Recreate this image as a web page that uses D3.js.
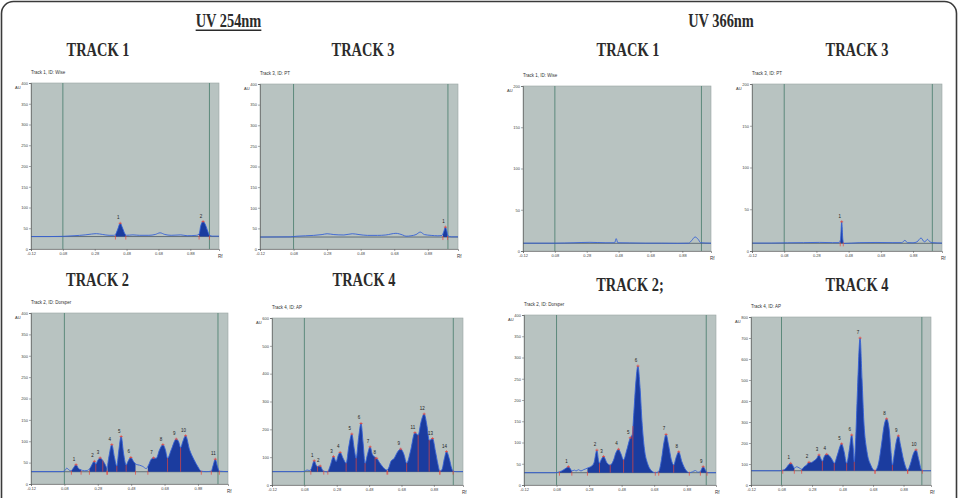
<!DOCTYPE html>
<html><head><meta charset="utf-8">
<script src="https://cdn.jsdelivr.net/npm/d3@7/dist/d3.min.js"></script>
<style>
html,body{margin:0;padding:0;background:#fff;}
svg{display:block;}
.tick text{font-family:"Liberation Sans",Arial,sans-serif;}
</style></head>
<body>
<svg id="chart" width="959" height="498"></svg>
<script>
// ---------- DATA ----------
const rfDomain = [-0.12, 1.06];
const rfTicks = [-0.12, 0.08, 0.28, 0.48, 0.68, 0.88];
const rfTickLabels = ["-0.12", "0.08", "0.28", "0.48", "0.68", "0.88"];
const frontLines = [0.08, 1.0];

const groupTitles = ["UV 254nm", "UV 366nm"];
const trackTitles = ["TRACK 1", "TRACK 3", "TRACK 1", "TRACK 3", "TRACK 2", "TRACK 4", "TRACK 2;", "TRACK 4"];
const panelIds = ["Track 1, ID: Wise", "Track 3, ID: PT", "Track 1, ID: Wise", "Track 3, ID: PT",
                  "Track 2, ID: Dorsper", "Track 4, ID: AP", "Track 2, ID: Dorsper", "Track 4, ID: AP"];

const yTicks400 = [0, 50, 100, 150, 200, 250, 300, 350, 400];
const yTicks200 = [0, 50, 100, 150, 200];
const yTicks600 = [0, 100, 200, 300, 400, 500, 600];
const yTicks800 = [0, 100, 200, 300, 400, 500, 600, 700, 800];

// UV 254 nm, track 1
const s1Signal = [[-0.12,30],[0.0,30],[0.08,30.5],[0.15,32],[0.22,34],[0.26,36],[0.29,37],[0.33,35],[0.37,33],[0.40,33],[0.41,35],[0.425,48],[0.44,62],[0.455,50],[0.47,36],[0.48,33],[0.52,34],[0.56,33],[0.62,33],[0.66,35],[0.69,39],[0.72,35],[0.76,33],[0.82,34],[0.86,32],[0.92,33],[0.935,36],[0.945,55],[0.96,66],[0.975,58],[0.99,42],[1.0,33],[1.02,31],[1.06,31]];
const s1Base = 30;
const s1Fills = [[0.41,0.475],[0.935,1.0]];
const s1Splits = [];
const s1Peaks = [[0.44,62,"1"],[0.96,66,"2"]];

// UV 254 nm, track 3
const s3Signal = [[-0.12,29],[0.06,29.5],[0.1,31],[0.15,32],[0.2,33],[0.25,35],[0.28,37],[0.32,35],[0.38,34],[0.43,37],[0.47,35],[0.52,33],[0.58,33],[0.63,34],[0.69,38],[0.73,34],[0.75,31],[0.78,32],[0.81,35],[0.835,41],[0.86,35],[0.9,33],[0.94,32],[0.965,33],[0.975,42],[0.985,53],[0.993,44],[1.0,32],[1.02,29.5],[1.06,29.5]];
const s3Base = 29;
const s3Fills = [[0.97,0.998]];
const s3Splits = [];
const s3Peaks = [[0.985,53,"1"]];

// UV 366 nm, track 1
const u1Signal = [[-0.12,9.5],[0.08,9.5],[0.2,10],[0.3,10.5],[0.4,10],[0.455,10],[0.465,15],[0.475,10],[0.55,9.8],[0.65,9.5],[0.75,9.5],[0.85,9.3],[0.92,9.5],[0.94,13],[0.96,17],[0.98,14],[0.995,10],[1.06,9.5]];
const u1Base = 9.3;
const u1Fills = [];
const u1Splits = [];
const u1Peaks = [];

// UV 366 nm, track 3
const u3Signal = [[-0.12,9.5],[0.0,9.5],[0.1,9.8],[0.2,10],[0.3,10.3],[0.38,10],[0.42,10],[0.43,14],[0.437,35],[0.444,14],[0.45,9],[0.55,10],[0.65,10.2],[0.75,10],[0.81,10],[0.83,12.8],[0.845,10],[0.88,9.8],[0.905,11],[0.93,15.6],[0.95,11],[0.96,12],[0.969,14],[0.985,11],[1.0,10],[1.06,9.5]];
const u3Base = 9.2;
const u3Fills = [[0.428,0.447]];
const u3Splits = [];
const u3Peaks = [[0.437,35,"1"]];

// UV 254 nm, track 2
const s2Signal = [[-0.12,29],[0.06,29],[0.08,30],[0.094,37],[0.11,32],[0.12,31],[0.135,38],[0.15,45],[0.165,36],[0.18,33],[0.2,31],[0.22,32],[0.235,38],[0.26,53],[0.268,46],[0.28,55],[0.294,61],[0.31,55],[0.325,45],[0.335,38],[0.345,60],[0.364,92],[0.38,62],[0.394,42],[0.405,75],[0.42,111],[0.435,70],[0.45,44],[0.46,52],[0.478,62],[0.495,52],[0.51,46],[0.53,44],[0.55,41],[0.57,36],[0.585,45],[0.6,58],[0.614,61],[0.63,60],[0.65,80],[0.67,92],[0.685,80],[0.698,60],[0.72,80],[0.75,105],[0.765,98],[0.776,85],[0.79,100],[0.806,113],[0.83,80],[0.855,58],[0.88,40],[0.9,30],[0.93,29],[0.96,30],[0.97,42],[0.984,58],[0.996,42],[1.008,30],[1.06,29]];
const s2Base = 28.7;
const s2Fills = [[0.122,0.18],[0.23,0.334],[0.338,0.506],[0.58,0.90],[0.96,1.008]];
const s2Splits = [0.268,0.31,0.394,0.45,0.698,0.776];
const s2Peaks = [[0.15,45,"1"],[0.26,53,"2"],[0.294,61,"3"],[0.364,92,"4"],[0.42,111,"5"],[0.478,62,"6"],[0.614,61,"7"],[0.67,92,"8"],[0.75,105,"9"],[0.806,113,"10"],[0.984,58,"11"]];

// UV 254 nm, track 4
const s4Signal = [[-0.12,48],[0.06,48],[0.081,49],[0.096,54],[0.11,52],[0.12,55],[0.141,87],[0.152,72],[0.161,66],[0.17,68],[0.178,68],[0.19,56],[0.198,50],[0.21,48],[0.223,47],[0.24,70],[0.26,102],[0.276,84],[0.29,108],[0.301,117],[0.32,95],[0.338,78],[0.355,140],[0.373,183],[0.388,130],[0.40,96],[0.415,170],[0.43,221],[0.443,150],[0.455,78],[0.47,110],[0.486,137],[0.5,110],[0.517,100],[0.527,96],[0.545,80],[0.56,68],[0.575,58],[0.588,54],[0.6,60],[0.615,85],[0.634,95],[0.655,118],[0.675,129],[0.695,110],[0.712,78],[0.735,120],[0.763,188],[0.783,179],[0.8,225],[0.82,255],[0.838,210],[0.851,161],[0.862,163],[0.872,167],[0.89,120],[0.905,75],[0.917,50],[0.93,55],[0.945,95],[0.958,120],[0.975,95],[0.99,60],[0.999,50],[1.02,48],[1.06,48]];
const s4Base = 48;
const s4Fills = [[0.12,0.2],[0.225,0.59],[0.595,0.917],[0.917,0.999]];
const s4Splits = [0.161,0.338,0.40,0.455,0.517,0.712,0.783,0.851];
const s4Peaks = [[0.141,87,"1"],[0.178,68,"2"],[0.26,102,"3"],[0.301,117,"4"],[0.373,183,"5"],[0.43,221,"6"],[0.486,137,"7"],[0.527,96,"8"],[0.675,129,"9"],[0.763,188,"11"],[0.82,255,"12"],[0.872,167,"13"],[0.958,120,"14"]];

// UV 366 nm, track 2
const u2Signal = [[-0.12,29],[0.07,29],[0.098,31],[0.12,35],[0.14,40],[0.153,43],[0.165,38],[0.174,33],[0.19,35],[0.2,33],[0.215,36],[0.23,33],[0.246,36],[0.26,38],[0.27,40],[0.297,45],[0.31,52],[0.328,82],[0.338,58],[0.344,51],[0.355,60],[0.369,67],[0.39,52],[0.41,47],[0.43,58],[0.445,76],[0.461,84],[0.475,74],[0.492,59],[0.51,80],[0.533,111],[0.545,118],[0.555,170],[0.567,240],[0.58,280],[0.593,230],[0.605,150],[0.62,85],[0.64,50],[0.66,35],[0.687,29],[0.708,32],[0.725,60],[0.74,100],[0.753,119],[0.768,95],[0.785,60],[0.80,47],[0.815,65],[0.831,78],[0.85,55],[0.875,35],[0.896,29],[0.915,31],[0.933,34],[0.95,30],[0.964,32],[0.981,43],[0.995,35],[1.005,29],[1.06,29]];
const u2Base = 29;
const u2Fills = [[0.098,0.174],[0.27,0.687],[0.708,0.896],[0.964,1.005]];
const u2Splits = [0.344,0.41,0.492,0.549,0.80];
const u2Peaks = [[0.153,43,"1"],[0.328,82,"2"],[0.369,67,"3"],[0.461,84,"4"],[0.533,111,"5"],[0.58,280,"6"],[0.753,119,"7"],[0.831,78,"8"],[0.981,43,"9"]];

// UV 366 nm, track 4
const u4Signal = [[-0.12,68],[0.07,68],[0.088,70],[0.11,80],[0.125,95],[0.14,103],[0.152,95],[0.164,80],[0.179,87],[0.195,82],[0.212,75],[0.23,88],[0.245,95],[0.26,108],[0.275,107],[0.289,113],[0.31,125],[0.326,143],[0.338,125],[0.348,113],[0.36,135],[0.376,146],[0.395,138],[0.413,119],[0.426,103],[0.445,140],[0.474,196],[0.49,160],[0.507,103],[0.525,170],[0.54,238],[0.55,180],[0.557,110],[0.565,200],[0.578,450],[0.595,700],[0.608,500],[0.62,300],[0.64,160],[0.665,95],[0.693,68],[0.715,100],[0.737,200],[0.752,280],[0.769,315],[0.785,270],[0.8,140],[0.807,95],[0.82,150],[0.835,215],[0.846,234],[0.86,190],[0.88,120],[0.907,71],[0.925,100],[0.945,150],[0.962,167],[0.98,120],[0.995,75],[1.003,68],[1.06,68]];
const u4Base = 68;
const u4Fills = [[0.088,0.164],[0.212,0.693],[0.693,0.907],[0.907,1.003]];
const u4Splits = [0.348,0.426,0.507,0.557,0.807];
const u4Peaks = [[0.14,103,"1"],[0.26,108,"2"],[0.326,143,"3"],[0.376,146,"4"],[0.474,196,"5"],[0.54,238,"6"],[0.595,700,"7"],[0.769,315,"8"],[0.846,234,"9"],[0.962,167,"10"]];

// ---------- LAYOUT ----------
const panels = [
  {box:[31,83,219,249],   ymax:400, ticks:yTicks400, sig:s1Signal, base:s1Base, fills:s1Fills, splits:s1Splits, peaks:s1Peaks, id:panelIds[0]},
  {box:[260,84,458,249],  ymax:400, ticks:yTicks400, sig:s3Signal, base:s3Base, fills:s3Fills, splits:s3Splits, peaks:s3Peaks, id:panelIds[1]},
  {box:[523,86,711,251],  ymax:200, ticks:yTicks200, sig:u1Signal, base:u1Base, fills:u1Fills, splits:u1Splits, peaks:u1Peaks, id:panelIds[2]},
  {box:[752,84,942,251],  ymax:200, ticks:yTicks200, sig:u3Signal, base:u3Base, fills:u3Fills, splits:u3Splits, peaks:u3Peaks, id:panelIds[3]},
  {box:[31,313,228,484],  ymax:400, ticks:yTicks400, sig:s2Signal, base:s2Base, fills:s2Fills, splits:s2Splits, peaks:s2Peaks, id:panelIds[4]},
  {box:[272,318,463,485], ymax:600, ticks:yTicks600, sig:s4Signal, base:s4Base, fills:s4Fills, splits:s4Splits, peaks:s4Peaks, id:panelIds[5]},
  {box:[524,315,716,485], ymax:400, ticks:yTicks400, sig:u2Signal, base:u2Base, fills:u2Fills, splits:u2Splits, peaks:u2Peaks, id:panelIds[6]},
  {box:[751,317,931,485], ymax:800, ticks:yTicks800, sig:u4Signal, base:u4Base, fills:u4Fills, splits:u4Splits, peaks:u4Peaks, id:panelIds[7]}
];

const svg = d3.select("#chart");
const defs = svg.append("defs");

// outer frame
svg.append("rect").attr("x",1.5).attr("y",1.5).attr("width",955).attr("height",520)
  .attr("rx",12).attr("fill","none").attr("stroke","#3a3a3a").attr("stroke-width",1.6);

// headings
const headFont = '"Liberation Serif","Times New Roman",serif';
function heading(txt, cx, baseY, underline){
  const g = svg.append("g").attr("transform",`translate(${cx},${baseY}) scale(0.8,1.02)`);
  const t = g.append("text").attr("text-anchor","middle").attr("font-family",headFont)
    .attr("font-weight","bold").attr("font-size",18).attr("fill","#2b2b2b").text(txt);
  if (underline){
    const w = t.node().getComputedTextLength();
    g.append("line").attr("x1",-w/2).attr("x2",w/2).attr("y1",3.2).attr("y2",3.2)
      .attr("stroke","#2b2b2b").attr("stroke-width",1.6);
  }
}
heading(groupTitles[0], 228.5, 27, true);
heading(groupTitles[1], 721, 27, false);
const headPos = [[98,56],[363,56],[628,56],[857,56],[97.5,286],[364,286],[630,291],[857,291]];
trackTitles.forEach((t,i)=>heading(t, headPos[i][0], headPos[i][1], false));

function interp(sig, rf){
  for (let i=1;i<sig.length;i++){
    if (sig[i][0] >= rf){
      const a=sig[i-1], b=sig[i];
      const t=(rf-a[0])/(b[0]-a[0]);
      return a[1]+t*(b[1]-a[1]);
    }
  }
  return sig[sig.length-1][1];
}

const tinyFont = '"Liberation Sans",Arial,sans-serif';
const red = "#e8463c";

panels.forEach((p,pi)=>{
  const [l,t,r,b] = p.box;
  const x = d3.scaleLinear().domain(rfDomain).range([l,r]);
  const y = d3.scaleLinear().domain([0,p.ymax]).range([b,t]);
  const g = svg.append("g");

  const cid = "clip"+pi;
  defs.append("clipPath").attr("id",cid).append("rect").attr("x",l).attr("y",t).attr("width",r-l).attr("height",b-t);

  g.append("rect").attr("x",l).attr("y",t).attr("width",r-l).attr("height",b-t)
    .attr("fill","#b8c3c1").attr("stroke","#9aa6a4").attr("stroke-width",0.6);

  const pg = g.append("g").attr("clip-path",`url(#${cid})`);

  frontLines.forEach(f=>{
    pg.append("line").attr("x1",x(f)).attr("x2",x(f)).attr("y1",t).attr("y2",b)
      .attr("stroke","#5d8a7c").attr("stroke-width",1);
  });

  // baseline
  pg.append("line").attr("x1",l).attr("x2",r).attr("y1",y(p.base)).attr("y2",y(p.base))
    .attr("stroke","#4d5a66").attr("stroke-width",0.8);

  const area = d3.area().x(d=>x(d[0])).y0(y(p.base)).y1(d=>y(Math.max(d[1],p.base))).curve(d3.curveMonotoneX);
  const line = d3.line().x(d=>x(d[0])).y(d=>y(d[1])).curve(d3.curveMonotoneX);

  p.fills.forEach((f,fi)=>{
    const fid = `fclip${pi}_${fi}`;
    defs.append("clipPath").attr("id",fid).append("rect")
      .attr("x",x(f[0])).attr("y",t).attr("width",x(f[1])-x(f[0])).attr("height",b-t);
    pg.append("path").datum(p.sig).attr("d",area).attr("fill","#1b3c9f").attr("clip-path",`url(#${fid})`);
  });

  pg.append("path").datum(p.sig).attr("d",line).attr("fill","none").attr("stroke","#3561d6").attr("stroke-width",0.9);

  // red split lines
  p.splits.forEach(s=>{
    pg.append("line").attr("x1",x(s)).attr("x2",x(s)).attr("y1",y(p.base)).attr("y2",y(interp(p.sig,s)))
      .attr("stroke",red).attr("stroke-width",0.7);
  });
  // red baseline ticks at fill boundaries
  p.fills.forEach(f=>{
    f.forEach(v=>{
      pg.append("line").attr("x1",x(v)).attr("x2",x(v)).attr("y1",y(p.base)-1).attr("y2",y(p.base)+3)
        .attr("stroke",red).attr("stroke-width",0.7);
    });
  });
  // peak markers and labels
  p.peaks.forEach(pk=>{
    const px = x(pk[0]), py = y(pk[1]);
    pg.append("line").attr("x1",px-1.5).attr("x2",px+1.5).attr("y1",py).attr("y2",py)
      .attr("stroke",red).attr("stroke-width",0.8);
    pg.append("line").attr("x1",px).attr("x2",px).attr("y1",py-1.5).attr("y2",py+1)
      .attr("stroke",red).attr("stroke-width",0.6);
    pg.append("text").attr("x",px-2).attr("y",py-4).attr("text-anchor","middle")
      .attr("font-family",tinyFont).attr("font-size",4.5).attr("fill","#222").text(pk[2]);
  });

  // axes
  const ya = d3.axisLeft(y).tickValues(p.ticks).tickSize(2).tickPadding(1).tickFormat(d3.format("d"));
  const yg = g.append("g").attr("transform",`translate(${l},0)`).call(ya);
  const xa = d3.axisBottom(x).tickValues(rfTicks).tickSize(2).tickPadding(1)
    .tickFormat((d,i)=>rfTickLabels[i]);
  const xg = g.append("g").attr("transform",`translate(0,${b})`).call(xa);
  [yg,xg].forEach(ax=>{
    ax.selectAll("text").attr("font-size",4).attr("fill","#444");
    ax.selectAll("line").attr("stroke","#555").attr("stroke-width",0.5);
    ax.select(".domain").attr("stroke","#555").attr("stroke-width",0.6);
  });

  g.append("text").attr("x",l-16).attr("y",t+6).attr("font-family",tinyFont)
    .attr("font-size",4).attr("fill","#333").text("AU");
  g.append("text").attr("x",r-1).attr("y",b+9).attr("font-family",tinyFont)
    .attr("font-size",4.5).attr("fill","#333").text("Rf");
  g.append("text").attr("x",l).attr("y",t-9).attr("font-family",tinyFont)
    .attr("font-size",4.5).attr("fill","#333").text(p.id);
});
</script>
</body></html>
